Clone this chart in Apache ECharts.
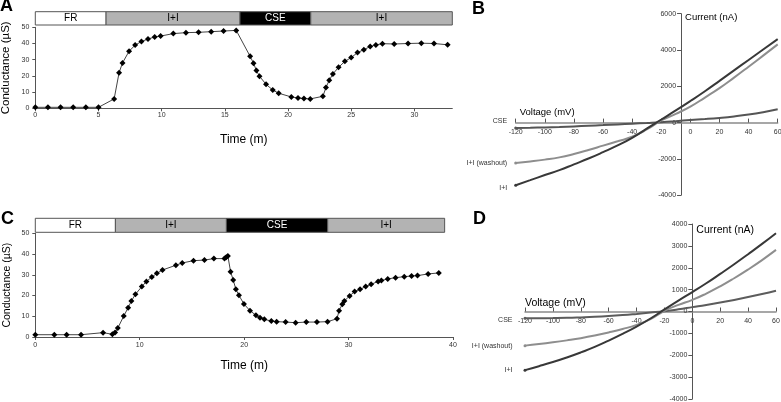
<!DOCTYPE html>
<html><head><meta charset="utf-8">
<script src="https://cdn.jsdelivr.net/npm/echarts@6/dist/echarts.min.js"></script>
<style>html,body{margin:0;padding:0;background:#fff}#c{width:781px;height:402px}</style>
</head><body><div id="c"></div>
<script>
const FONT = 'Liberation Sans, Arial, sans-serif';

// ---- Panel A: conductance vs time ----
const timeA = [0,1,2,3,4,5,6.24,6.63,6.9,7.42,7.9,8.4,8.92,9.45,9.92,10.92,11.92,12.92,13.92,14.9,15.9,17.0,17.27,17.5,17.74,18.26,18.79,19.26,20.26,20.79,21.26,21.76,22.76,23.0,23.26,23.55,24.0,24.5,25.0,25.5,26.0,26.5,26.95,27.47,28.4,29.5,30.55,31.55,32.63];
const condA = [0.6,0.6,0.6,0.6,0.6,0.6,5.8,22,28,35.2,39,41.2,42.8,44,44.6,46.1,46.7,46.9,47.3,47.7,48.1,32.1,27.8,23.3,19.8,14.8,11.3,9.3,7.0,6.4,6.0,5.8,7.4,12.8,17.3,21.2,25.3,29.0,31.3,34.4,36.2,38.1,39.1,39.9,39.7,40,40.2,40,39.2];
const stageLabelsA = ['FR','I+I','CSE','I+I'];
const stageStartA = [0,5.6,16.2,21.8];
const stageEndA = [5.6,16.2,21.8,33];
const ticksA = [0,5,10,15,20,25,30];

// ---- Panel C: conductance vs time ----
const timeC = [0,1.82,3.0,4.38,6.49,7.38,7.64,7.9,8.47,8.89,9.2,9.59,10.2,10.64,11.16,11.64,12.18,13.46,14.07,15.15,16.2,17.1,18.12,18.28,18.44,18.7,18.95,19.21,19.5,19.98,20.56,21.13,21.52,21.93,22.6,23.11,23.97,24.93,25.95,26.97,27.99,28.89,29.09,29.4,29.6,30.1,30.58,31.1,31.64,32.16,32.83,33.14,33.75,34.5,35.33,36.03,36.6,37.62,38.64];
const condC = [1.1,1.1,1.1,1.1,2.1,1.3,2.2,4.3,10.1,14.1,17.4,20.6,24.3,26.8,28.9,30.7,32.3,34.6,35.7,36.8,37.1,37.8,37.8,38.4,39.1,31.5,27.5,23,20.1,15.9,12.7,10.5,9.3,8.5,7.7,7.4,7.2,6.9,7.2,7.2,7.4,8.8,12.7,15.8,17.4,19.8,21.9,23,24.3,25.4,26.8,27.2,28,28.6,29.1,29.4,29.6,30.4,30.9];
const stageLabelsC = ['FR','I+I','CSE','I+I'];
const stageStartC = [0,7.67,18.3,28.0];
const stageEndC = [7.67,18.3,28.0,39.2];

const stageFill = {'FR':'#ffffff','I+I':'#b3b3b3','CSE':'#000000'};
const stageText = {'FR':'#000000','I+I':'#000000','CSE':'#ffffff'};

// ---- Panels B and D: current vs voltage ----
const voltage = [-120,-110,-100,-90,-80,-70,-60,-50,-40,-30,-20,-10,0,10,20,30,40,50,60];
const bII   = [-3450,-3170,-2890,-2618,-2300,-1980,-1630,-1260,-840,-330,170,670,1190,1730,2300,2880,3450,4030,4600];
const bWash = [-2225,-2140,-2040,-1915,-1730,-1510,-1270,-1030,-780,-380,120,480,880,1380,1900,2480,3080,3690,4310];
const bCSE  = [-300,-285,-265,-240,-210,-175,-138,-98,-58,-18,25,80,140,195,260,340,440,570,730];
const dII   = [-2680,-2500,-2310,-2100,-1870,-1620,-1330,-1020,-690,-320,95,500,890,1290,1720,2160,2620,3090,3580];
const dWash = [-1560,-1490,-1410,-1320,-1220,-1100,-960,-800,-610,-350,30,300,530,820,1150,1520,1920,2350,2815];
const dCSE  = [-310,-305,-300,-290,-270,-245,-210,-165,-110,-50,15,100,200,300,410,530,660,800,950];
const ivNames = ['I+I','I+I (washout)','CSE'];
const ivColors = ['#383838','#8e8e8e','#555555'];
const yAxisCrossB = -6.4;   // mV where the current axis crosses in panel B
const yAxisCrossD = 0;

// grid geometry
const gB = {left:515.7, width:262, top:13.7, height:181.5, xMin:-120, xMax:60, yMin:-4000, yMax:6000};
const gD = {left:525, width:251, top:224, height:175, xMin:-120, xMax:60, yMin:-4000, yMax:4000};
function xOffset(g){ return -g.height * (0 - g.yMin) / (g.yMax - g.yMin); }
function yOffset(g, cross){ return -g.width * (cross - g.xMin) / (g.xMax - g.xMin); }

function pairs(xs, ys){ return xs.map((x,i)=>[x, ys[i]]); }
function ivData(ys, name, labelOffset, color, dist){
  const d = pairs(voltage, ys);
  d[0] = {value: d[0], symbol:'circle', symbolSize:3, itemStyle:{color:color},
          label: {show:true, position:'left', distance:dist||7, offset: labelOffset||[0,0],
          formatter: name, fontSize:7, color:'#333', fontFamily:FONT}};
  return d;
}
function stageData(starts, ends){ return starts.map((s,i)=>[s, ends[i]]); }
function bannerRender(labels){
  return function(params, api){
    const a = api.coord([api.value(0), 1]);
    const b = api.coord([api.value(1), 0]);
    const lab = labels[params.dataIndex];
    return {type:'group', children:[
      {type:'rect', shape:{x:a[0], y:a[1], width:b[0]-a[0], height:b[1]-a[1]},
       style:{fill:stageFill[lab], stroke:'#555', lineWidth:1}},
      {type:'text', style:{text:lab, x:(a[0]+b[0])/2, y:(a[1]+b[1])/2, align:'center', verticalAlign:'middle',
       fill:stageText[lab], fontSize:10, fontFamily:FONT}}
    ]};
  };
}

const plain = v => String(v);
const lab7 = {fontSize:7, color:'#333', fontFamily:FONT, formatter:plain};
const axLine = {lineStyle:{color:'#555', width:1}};
function grid(o){ return Object.assign({outerBoundsMode:'none', containLabel:false}, o); }

const chart = echarts.init(document.getElementById('c'));
chart.setOption({
  animation:false,
  textStyle:{fontFamily:FONT},
  graphic:[
    {type:'text', left:0, top:-3, style:{text:'A', fontSize:18, fontWeight:'bold', fill:'#000', fontFamily:FONT}},
    {type:'text', left:472, top:0, style:{text:'B', fontSize:18, fontWeight:'bold', fill:'#000', fontFamily:FONT}},
    {type:'text', left:1, top:210, style:{text:'C', fontSize:18, fontWeight:'bold', fill:'#000', fontFamily:FONT}},
    {type:'text', left:473, top:210, style:{text:'D', fontSize:18, fontWeight:'bold', fill:'#000', fontFamily:FONT}}
  ],
  grid:[
    grid({left:35.3, width:417, top:27.3, height:81}),       // 0 A
    grid({left:35.3, width:417, top:11.7, height:13.3}),     // 1 A banner
    grid({left:gB.left, width:gB.width, top:gB.top, height:gB.height}), // 2 B
    grid({left:35.3, width:417.7, top:233.3, height:103.7}), // 3 C
    grid({left:35.3, width:417.7, top:218.3, height:14}),    // 4 C banner
    grid({left:gD.left, width:gD.width, top:gD.top, height:gD.height})  // 5 D
  ],
  xAxis:[
    {type:'value', gridIndex:0, min:0, max:33, interval:5, name:'Time (m)', nameLocation:'middle', nameGap:25,
     nameTextStyle:{fontSize:12, color:'#000'}, axisLine:axLine, splitLine:{show:false},
     axisTick:{length:3, customValues:ticksA, lineStyle:{color:'#555'}}, axisLabel:Object.assign({margin:3, customValues:ticksA}, lab7)},
    {type:'value', gridIndex:1, min:0, max:33, show:false},
    {type:'value', gridIndex:2, min:gB.xMin, max:gB.xMax, interval:20, offset:xOffset(gB),
     name:'Voltage (mV)', nameLocation:'start', nameGap:-4,
     nameTextStyle:{fontSize:9.5, color:'#000', align:'left', verticalAlign:'bottom', padding:[0,0,5,0]},
     axisLine:{onZero:false, lineStyle:{color:'#8a8a8a', width:1.5}}, splitLine:{show:false},
     axisTick:{inside:true, length:4, lineStyle:{color:'#555'}}, axisLabel:Object.assign({margin:6}, lab7)},
    {type:'value', gridIndex:3, min:0, max:40, interval:10, name:'Time (m)', nameLocation:'middle', nameGap:23,
     nameTextStyle:{fontSize:12, color:'#000'}, axisLine:axLine, splitLine:{show:false},
     axisTick:{length:3, lineStyle:{color:'#555'}}, axisLabel:Object.assign({margin:5}, lab7)},
    {type:'value', gridIndex:4, min:0, max:40, show:false},
    {type:'value', gridIndex:5, min:gD.xMin, max:gD.xMax, interval:20, offset:xOffset(gD),
     name:'Voltage (mV)', nameLocation:'start', nameGap:0,
     nameTextStyle:{fontSize:10.5, color:'#000', align:'left', verticalAlign:'bottom', padding:[0,0,3,0]},
     axisLine:{onZero:false, lineStyle:{color:'#8a8a8a', width:1.5}}, splitLine:{show:false},
     axisTick:{inside:true, length:4, lineStyle:{color:'#555'}}, axisLabel:Object.assign({margin:6}, lab7)}
  ],
  yAxis:[
    {type:'value', gridIndex:0, min:0, max:50, interval:10, name:'Conductance (\u00b5S)', nameLocation:'middle', nameGap:23,
     nameMoveOverlap:false,
     nameTextStyle:{fontSize:11.5, color:'#000'}, axisLine:Object.assign({show:true}, axLine), splitLine:{show:false},
     axisTick:{show:true, length:3, lineStyle:{color:'#555'}}, axisLabel:Object.assign({margin:6}, lab7)},
    {type:'value', gridIndex:1, min:0, max:1, show:false},
    {type:'value', gridIndex:2, min:gB.yMin, max:gB.yMax, interval:2000, offset:yOffset(gB, yAxisCrossB),
     name:'Current (nA)', nameLocation:'end', nameGap:-4,
     nameTextStyle:{fontSize:9.5, color:'#000', align:'left', verticalAlign:'middle', padding:[0,0,0,4]},
     axisLine:{show:true, onZero:false, lineStyle:{color:'#555', width:1}}, splitLine:{show:false},
     axisTick:{show:true, length:4, lineStyle:{color:'#555'}}, axisLabel:Object.assign({margin:5}, lab7)},
    {type:'value', gridIndex:3, min:0, max:50, interval:10, name:'Conductance (\u00b5S)', nameLocation:'middle', nameGap:23,
     nameMoveOverlap:false,
     nameTextStyle:{fontSize:10.5, color:'#000'}, axisLine:Object.assign({show:true}, axLine), splitLine:{show:false},
     axisTick:{show:true, length:3, lineStyle:{color:'#555'}}, axisLabel:Object.assign({margin:6}, lab7)},
    {type:'value', gridIndex:4, min:0, max:1, show:false},
    {type:'value', gridIndex:5, min:gD.yMin, max:gD.yMax, interval:1000, offset:yOffset(gD, yAxisCrossD),
     name:'Current (nA)', nameLocation:'end', nameGap:-6,
     nameTextStyle:{fontSize:10.5, color:'#000', align:'left', verticalAlign:'middle', padding:[0,0,0,4]},
     axisLine:{show:true, onZero:false, lineStyle:{color:'#555', width:1}}, splitLine:{show:false},
     axisTick:{show:true, length:4, lineStyle:{color:'#555'}}, axisLabel:Object.assign({margin:5}, lab7)}
  ],
  series:[
    {type:'line', xAxisIndex:0, yAxisIndex:0, data:pairs(timeA, condA), symbol:'diamond', symbolSize:6,
     itemStyle:{color:'#000'}, lineStyle:{color:'#444', width:1}},
    {type:'custom', xAxisIndex:1, yAxisIndex:1, data:stageData(stageStartA, stageEndA), renderItem:bannerRender(stageLabelsA)},
    {type:'line', xAxisIndex:3, yAxisIndex:3, data:pairs(timeC, condC), symbol:'diamond', symbolSize:6,
     itemStyle:{color:'#000'}, lineStyle:{color:'#444', width:1}},
    {type:'custom', xAxisIndex:4, yAxisIndex:4, data:stageData(stageStartC, stageEndC), renderItem:bannerRender(stageLabelsC)},
    {type:'line', name:ivNames[2], xAxisIndex:2, yAxisIndex:2, data:ivData(bCSE, ivNames[2], [0,-7], ivColors[2], 7), smooth:true,
     symbol:'none', lineStyle:{color:ivColors[2], width:2}},
    {type:'line', name:ivNames[1], xAxisIndex:2, yAxisIndex:2, data:ivData(bWash, ivNames[1], [0,0], ivColors[1], 7), smooth:true,
     symbol:'none', lineStyle:{color:ivColors[1], width:2}},
    {type:'line', name:ivNames[0], xAxisIndex:2, yAxisIndex:2, data:ivData(bII, ivNames[0], [0,3], ivColors[0], 7), smooth:true,
     symbol:'none', lineStyle:{color:ivColors[0], width:2}},
    {type:'line', name:ivNames[2], xAxisIndex:5, yAxisIndex:5, data:ivData(dCSE, ivNames[2], [0,2], '#5c5c5c', 11), smooth:true,
     symbol:'none', lineStyle:{color:'#5c5c5c', width:2}},
    {type:'line', name:ivNames[1], xAxisIndex:5, yAxisIndex:5, data:ivData(dWash, ivNames[1], [0,0], ivColors[1], 11), smooth:true,
     symbol:'none', lineStyle:{color:ivColors[1], width:2}},
    {type:'line', name:ivNames[0], xAxisIndex:5, yAxisIndex:5, data:ivData(dII, ivNames[0], [0,0], ivColors[0], 11), smooth:true,
     symbol:'none', lineStyle:{color:ivColors[0], width:2}}
  ]
});
</script></body></html>
